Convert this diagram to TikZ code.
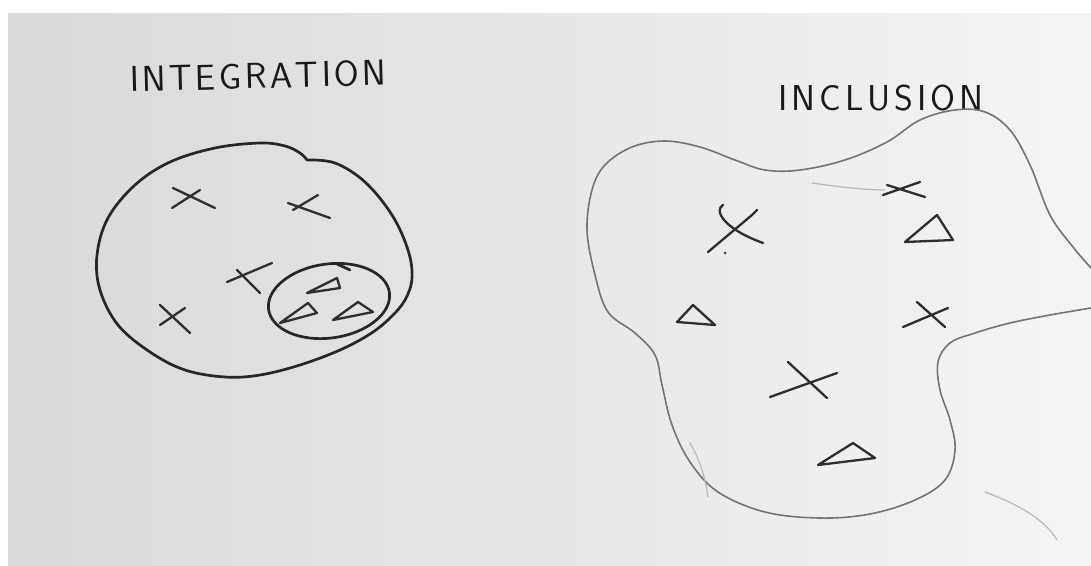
\documentclass[tikz,border=0pt]{standalone}
\usepackage{fontspec}
\newcommand{\gapA}{\kern3.2pt}
\newcommand{\gapB}{\kern4pt}
\begin{document}
\begin{tikzpicture}[x=1pt,y=-1pt,
  pencil/.style={draw=black!85, line width=2.7pt, line cap=round, line join=round},
  softpencil/.style={draw=black!55, line width=1.6pt, line cap=round, line join=round},
  sketch/.style={draw=black!82, line width=2.3pt, line cap=round, line join=round},
  faint/.style={draw=black!28, line width=1.2pt, line cap=round},
  titletext/.style={font=\sffamily\fontsize{36}{36}\selectfont, text=black!90, inner sep=0pt}]
\useasboundingbox (0,0) rectangle (1091,565);
\fill[white] (0,0) rectangle (1091,565);
\shade[left color=black!15, right color=black!4] (8,13) rectangle (1091,565);

% titles
\node[titletext, rotate=1.5] (integ) at (258,76) {I\gapA N\gapA T\gapA E\gapA G\gapA R\gapA A\gapA T\gapA I\gapA O\gapA N};
\node[titletext] (incl) at (881,98) {I\gapB N\gapB C\gapB L\gapB U\gapB S\gapB I\gapB O\gapB N};

% ---- left: integration ----
\draw[pencil] plot[smooth, tension=0.6] coordinates {(307,160) (335,163) (365,182) (392,215) (408,250) (412,278) (405,300) (390,318) (370,334) (340,350) (300,365) (260,375) (225,377) (185,370) (150,352) (118,325) (100,290) (97,255) (108,218) (135,185) (170,162) (215,148) (260,143) (285,146) (300,153) (307,160)};
\draw[pencil, rotate around={8:(329,301)}] (329,301) ellipse [x radius=61, y radius=37];
\draw[pencil] (337,264) -- (350,270);

% crosses
\draw[sketch] (173,188) -- (215,208) (172,208) -- (200,190);
\draw[sketch] (288,203) -- (330,218) (293,210) -- (318,195);
\draw[sketch] (227,282) -- (272,263) (237,270) -- (260,293);
\draw[sketch] (160,325) -- (185,308) (160,305) -- (190,333);
% triangles
\draw[sketch] (307,293) -- (337,278) -- (340,288) -- cycle;
\draw[sketch] (280,323) -- (308,303) -- (317,313) -- cycle;
\draw[sketch] (333,320) -- (358,302) -- (373,312) -- cycle;

% ---- right: inclusion ----
\draw[softpencil] plot[smooth, tension=0.6] coordinates {(1091,268) (1073,247) (1050,215) (1030,165) (1010,130) (985,112) (955,110) (920,120) (887,142) (845,160) (800,170) (765,170) (735,160) (700,147) (665,141) (632,147) (605,165) (592,190) (587,230) (595,275) (608,312) (635,333) (655,355) (662,385) (672,425) (690,462) (718,492) (765,512) (820,518) (870,514) (915,500) (945,480) (955,450) (950,420) (940,390) (938,362) (950,343) (975,333) (1010,323) (1050,315) (1091,308)};
\draw[faint] (812,183) .. controls (840,187) and (865,190) .. (885,190);
\draw[faint] (690,443) .. controls (700,460) and (706,480) .. (708,497);
\draw[faint] (985,492) .. controls (1020,505) and (1045,520) .. (1057,540);

% crosses
\draw[sketch] (723,205) .. controls (714,210) and (722,228) .. (763,243);
\draw[sketch] (708,252) -- (752,215) -- (757,210);
\fill[black!75] (725,253) circle (1.5);
\draw[sketch] (883,195) -- (920,182) (887,185) -- (925,197);
\draw[sketch] (903,327) -- (948,308) (917,302) -- (945,327);
\draw[sketch] (770,397) -- (837,373) (788,362) -- (827,398);
% triangles
\draw[sketch] (905,242) -- (937,215) -- (953,240) -- cycle;
\draw[sketch] (677,322) -- (693,305) -- (715,325) -- cycle;
\draw[sketch] (818,465) -- (853,443) -- (875,458) -- cycle;
\end{tikzpicture}
\end{document}
